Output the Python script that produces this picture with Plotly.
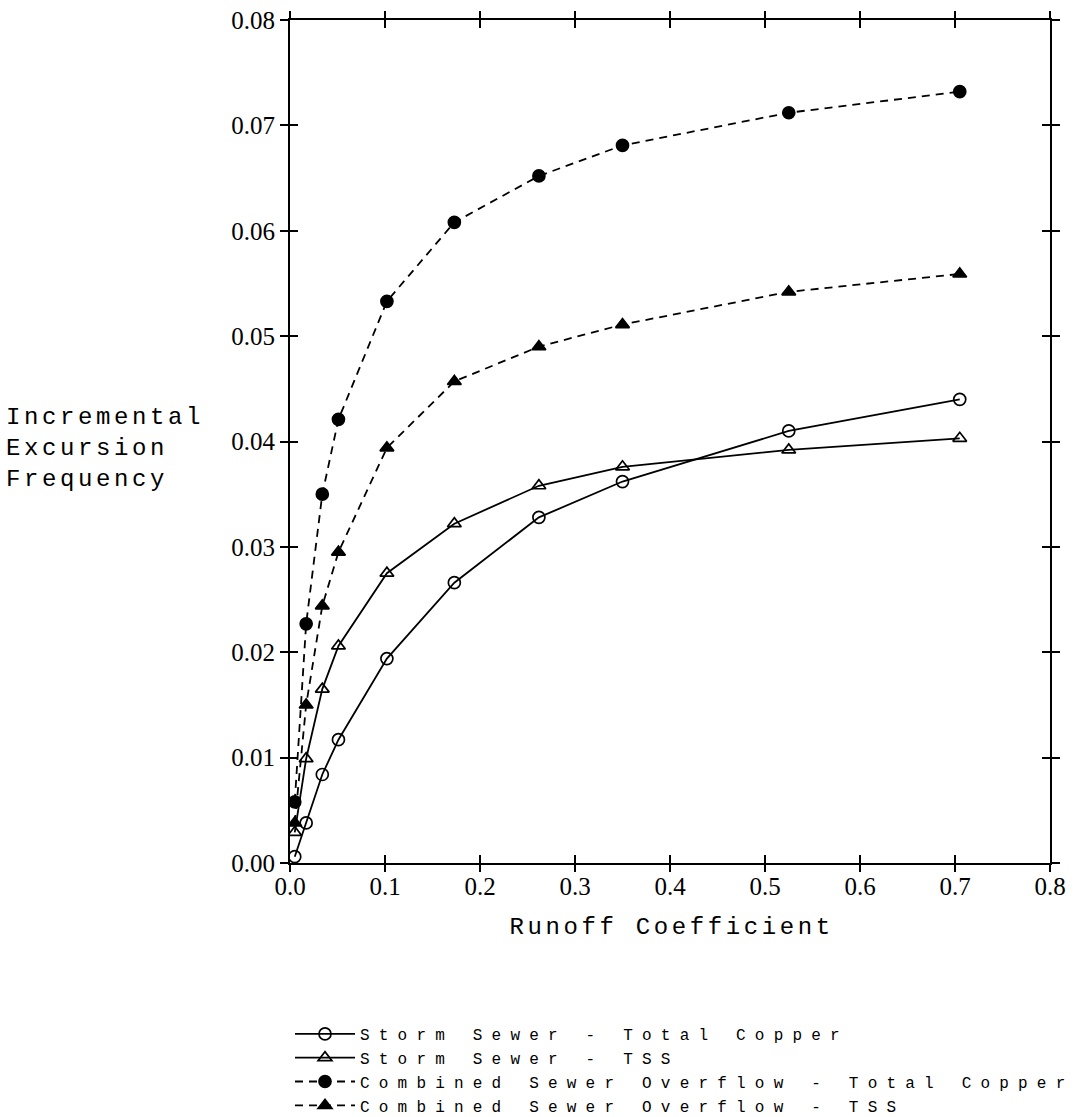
import plotly.graph_objects as go

runoff = [0.005, 0.017, 0.034, 0.051, 0.102, 0.173, 0.262, 0.350, 0.525, 0.705]

ss_copper = [0.0006, 0.0038, 0.0084, 0.0117, 0.0194, 0.0266, 0.0328, 0.0362, 0.0410, 0.0440]
ss_tss = [0.0029, 0.0099, 0.0165, 0.0206, 0.0275, 0.0322, 0.0358, 0.0376, 0.0392, 0.0403]
cso_copper = [0.0058, 0.0227, 0.0350, 0.0421, 0.0533, 0.0608, 0.0652, 0.0681, 0.0712, 0.0732]
cso_tss = [0.0038, 0.0150, 0.0244, 0.0295, 0.0394, 0.0457, 0.0490, 0.0511, 0.0542, 0.0559]

names = [
    "Storm Sewer - Total Copper",
    "Storm Sewer - TSS",
    "Combined Sewer Overflow - Total Copper",
    "Combined Sewer Overflow - TSS",
]

x_ticks = [0.0, 0.1, 0.2, 0.3, 0.4, 0.5, 0.6, 0.7, 0.8]
y_ticks = [0.00, 0.01, 0.02, 0.03, 0.04, 0.05, 0.06, 0.07, 0.08]

LBL = "Liberation Mono"
TICKF = "Liberation Serif"

fig = go.Figure()

series = [
    (ss_copper, "solid", "circle-open", 12),
    (ss_tss, "solid", "triangle-up-open", 12),
    (cso_copper, "8px,6px", "circle", 12),
    (cso_tss, "8px,6px", "triangle-up", 12),
]
for (vals, dash, sym, sz), nm in zip(series, names):
    fig.add_trace(go.Scatter(
        x=runoff, y=vals, name=nm, mode="lines+markers",
        line=dict(color="black", width=1.8, dash=dash),
        marker=dict(symbol=sym, size=sz, color="black",
                    line=dict(color="black", width=1.7)),
    ))

# invisible trace to drive the secondary (tick) axes
fig.add_trace(go.Scatter(x=[0], y=[0], xaxis="x2", yaxis="y2", mode="markers",
                         marker=dict(opacity=0), showlegend=False, hoverinfo="skip"))

tick_style = dict(ticklen=8, tickwidth=1.8, tickcolor="black")

fig.update_layout(
    width=1091, height=1117,
    margin=dict(l=290, r=41, t=20, b=254, autoexpand=False),
    paper_bgcolor="white", plot_bgcolor="white",
    font=dict(family=LBL, size=20, color="black"),
    xaxis=dict(range=[0, 0.8], tickvals=x_ticks,
               ticktext=[f"{v:.1f}" for v in x_ticks],
               tickfont=dict(family=TICKF, size=25), automargin=False,
               showgrid=False, zeroline=False, showline=True, linecolor="black",
               linewidth=2.2, mirror="ticks", ticks="inside", **tick_style),
    yaxis=dict(range=[0, 0.08], tickvals=y_ticks,
               ticktext=[f"{v:.2f}" for v in y_ticks],
               tickfont=dict(family=TICKF, size=25), automargin=False,
               showgrid=False, zeroline=False, showline=True, linecolor="black",
               linewidth=2.2, mirror="ticks", ticks="outside", **tick_style),
    xaxis2=dict(range=[0, 0.8], overlaying="x", tickvals=x_ticks, showticklabels=False,
                showgrid=False, zeroline=False, showline=False, mirror="ticks",
                ticks="outside", **tick_style),
    yaxis2=dict(range=[0, 0.08], overlaying="y", tickvals=y_ticks, showticklabels=False,
                showgrid=False, zeroline=False, showline=False, mirror="ticks",
                ticks="inside", **tick_style),
    showlegend=True,
    legend=dict(x=0.0, y=-0.1827, xanchor="left", yanchor="top",
                font=dict(family=LBL, size=16), tracegroupgap=0,
                itemwidth=60, bgcolor="rgba(0,0,0,0)"),
    annotations=[
        dict(text="Runoff Coefficient", xref="paper", yref="paper",
             x=0.502, y=-0.077, xanchor="center", yanchor="middle",
             showarrow=False, font=dict(family=LBL, size=24)),
        dict(text="Incremental<br>Excursion<br>Frequency", xref="paper", yref="paper",
             x=-0.376, y=0.492, xanchor="left", yanchor="middle", align="left",
             showarrow=False, font=dict(family=LBL, size=24)),
    ],
)

post_js = """
var gd = document.getElementById('{plot_id}');
function widen(){
  gd.querySelectorAll('.legend [clip-path]').forEach(function(e){ e.removeAttribute('clip-path'); });
  gd.querySelectorAll('.legendtext').forEach(function(e){ e.setAttribute('letter-spacing','9.2px'); });
  gd.querySelectorAll('.annotation-text').forEach(function(e){ e.setAttribute('letter-spacing','3.6px'); });
}
widen();
gd.on('plotly_afterplot', widen);
"""

fig.write_html("out.html", post_script=post_js)
